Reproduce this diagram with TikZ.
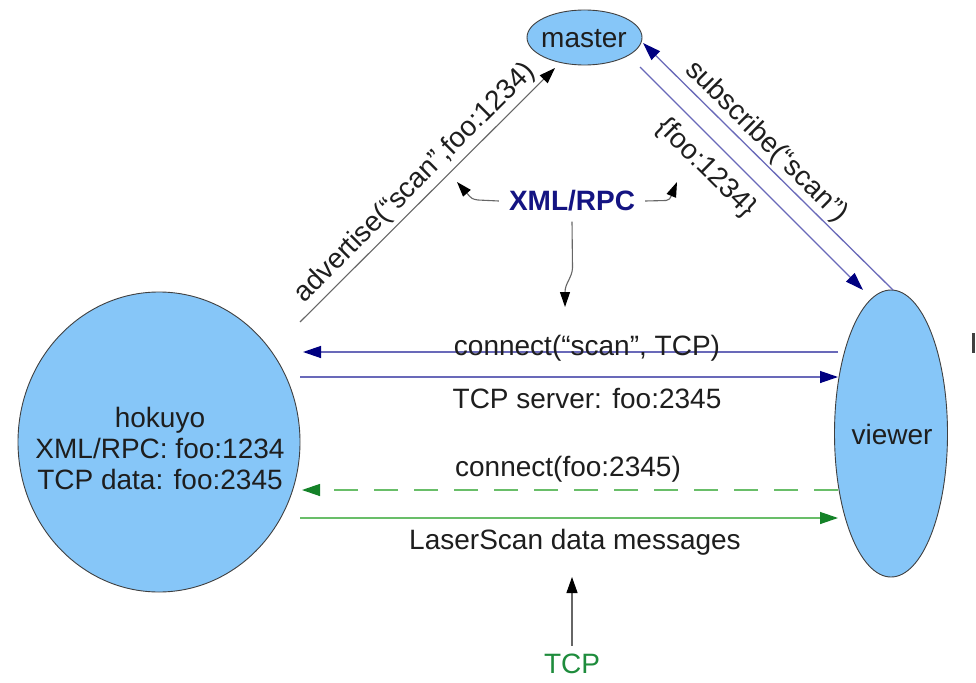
\documentclass[tikz,border=0pt]{standalone}
\usepackage{fontspec}
\setmainfont{Liberation Sans}
\usetikzlibrary{shapes.geometric,arrows.meta}
\definecolor{nodeblue}{RGB}{134,198,248}
\definecolor{navyhead}{RGB}{0,0,128}
\definecolor{navyline}{RGB}{105,105,185}
\definecolor{greenhead}{RGB}{20,130,40}
\definecolor{greenline}{RGB}{105,190,105}
\definecolor{tcpgreen}{RGB}{30,140,60}
\definecolor{xmlblue}{RGB}{20,20,130}
\definecolor{textgray}{RGB}{30,30,30}
\begin{document}
\begin{tikzpicture}[x=1pt,y=-1pt,
  every node/.style={font=\fontsize{28}{31}\selectfont, text=textgray},
  bubble/.style={ellipse, draw=black!75, line width=0.9pt, fill=nodeblue, inner sep=0pt},
  navyarrow/.style={draw=navyline, line width=1.3pt, -{Triangle[length=18pt,width=12pt,color=navyhead]}},
  greenarrow/.style={draw=greenline, line width=1.3pt, -{Triangle[length=18pt,width=12pt,color=greenhead]}},
  grayarrow/.style={draw=black!60, line width=1.1pt, -{Triangle[length=16pt,width=11pt,color=black]}},
  curvearrow/.style={draw=black!60, line width=1.1pt, -{Triangle[length=15pt,width=10pt,color=black]}},
]
\useasboundingbox (0,0) rectangle (976,682);
\fill[white] (0,0) rectangle (976,682);

% nodes
\node[bubble, minimum width=115pt, minimum height=55pt] (master) at (584.5,37.5) {};
\node (mastertext) at (584,39) {master};
\node[bubble, minimum width=282pt, minimum height=300pt] (hokuyo) at (159,442) {};
\node[align=center] (hokuyotext) at (160,448) {hokuyo\\XML/RPC: foo:1234\\TCP data: foo:2345};
\node[bubble, minimum width=113pt, minimum height=287pt] (viewer) at (891,433.5) {};
\node (viewertext) at (892,434) {viewer};

% diagonal connections
\coordinate (advstart) at (300,322);
\coordinate (advend) at (555,68);
\draw[grayarrow] (advstart) -- (advend);
\node[rotate=44.9] (advlabel) at (415,183) {advertise(“scan”,foo:1234)};

\coordinate (substart) at (893,290);
\coordinate (subend) at (643,43);
\draw[navyarrow] (substart) -- (subend);
\node[rotate=-44.7] (sublabel) at (766,142) {subscribe(“scan”)};

\coordinate (repstart) at (640,67);
\coordinate (repend) at (863,290);
\draw[navyarrow] (repstart) -- (repend);
\node[rotate=-44.7] (replabel) at (706,168) {\{foo:1234\}};

% XML/RPC pointer
\node[inner sep=10pt, text=xmlblue, font=\fontsize{28}{31}\selectfont\bfseries] (xml) at (572,201) {XML/RPC};
\coordinate (xmlleft) at (457,182);
\coordinate (xmlright) at (677,182);
\coordinate (xmldown) at (565,307);
\draw[curvearrow] (xml.west) -- (478,200) .. controls (472,199) .. (xmlleft);
\draw[curvearrow] (xml.east) -- (666,200.5) .. controls (670,199) .. (xmlright);
\draw[curvearrow] (xml.south) -- (572.5,268) .. controls (572,278) and (565,283) .. (xmldown);

% horizontal connections
\coordinate (h1r) at (838,352);
\coordinate (h1l) at (303,352);
\draw[navyarrow] (h1r) -- (h1l);
\node[anchor=base] (h1label) at (587,355) {connect(“scan”, TCP)};

\coordinate (h2l) at (300,377);
\coordinate (h2r) at (838,377);
\draw[navyarrow] (h2l) -- (h2r);
\node[anchor=base] (h2label) at (587,408) {TCP server: foo:2345};

\coordinate (h3r) at (838,490);
\coordinate (h3l) at (302,490);
\draw[greenarrow, dash pattern=on 24pt off 16pt] (h3r) -- (h3l);
\node[anchor=base] (h3label) at (568,476) {connect(foo:2345)};

\coordinate (h4l) at (300,518);
\coordinate (h4r) at (838,518);
\draw[greenarrow] (h4l) -- (h4r);
\node[anchor=base] (h4label) at (575,549) {LaserScan data messages};

% TCP pointer
\node[text=tcpgreen, inner sep=8pt] (tcp) at (572,664) {TCP};
\coordinate (tcptip) at (572,577);
\draw[grayarrow] (tcp.north) -- (tcptip);

% clipped mark at the right edge
\draw[black!75, line width=2.5pt] (973.5,333) -- (973.5,353);
\end{tikzpicture}
\end{document}
